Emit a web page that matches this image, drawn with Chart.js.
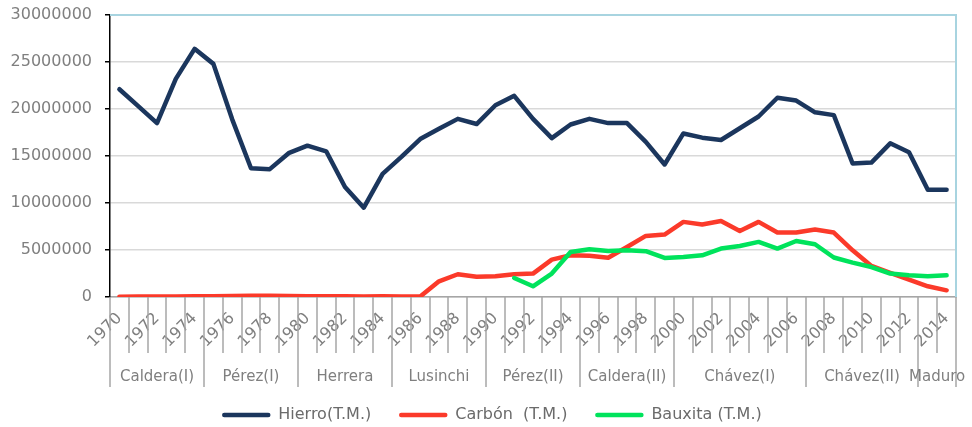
<!DOCTYPE html>
<html>
<head>
<meta charset="utf-8">
<script src="https://cdn.jsdelivr.net/npm/chart.js@4"></script>
<style>
  html, body { margin: 0; padding: 0; background: #fff; }
</style>
</head>
<body>
<canvas id="chart" width="972" height="427"></canvas>
<script>
// Categories (years) and the presidential periods under them
const years = ['1970', '1971', '1972', '1973', '1974', '1975', '1976', '1977', '1978', '1979',
  '1980', '1981', '1982', '1983', '1984', '1985', '1986', '1987', '1988', '1989',
  '1990', '1991', '1992', '1993', '1994', '1995', '1996', '1997', '1998', '1999',
  '2000', '2001', '2002', '2003', '2004', '2005', '2006', '2007', '2008', '2009',
  '2010', '2011', '2012', '2013', '2014'];
const presidents = ['Caldera(I)', 'Pérez(I)', 'Herrera', 'Lusinchi', 'Pérez(II)', 'Caldera(II)', 'Chávez(I)', 'Chávez(II)', 'Maduro'];
const presidentYears = [5, 5, 5, 5, 5, 5, 7, 6, 2];

// Production in T.M.
const hierro = [22100000, 20300000, 18500000, 23200000, 26400000, 24800000, 18900000, 13700000, 13600000, 15300000,
  16100000, 15500000, 11700000, 9500000, 13100000, 14900000, 16800000, 17900000, 18950000, 18400000,
  20400000, 21400000, 18950000, 16900000, 18350000, 18950000, 18500000, 18500000, 16500000, 14100000,
  17400000, 16950000, 16700000, 17950000, 19200000, 21200000, 20900000, 19650000, 19350000, 14200000,
  14300000, 16350000, 15400000, 11400000, 11400000];
const carbon = [30000, 40000, 50000, 60000, 70000, 80000, 100000, 120000, 130000, 110000,
  90000, 80000, 70000, 60000, 70000, 60000, 50000, 1670000, 2420000, 2150000,
  2200000, 2420000, 2490000, 3980000, 4440000, 4380000, 4180000, 5320000, 6500000, 6640000,
  7990000, 7710000, 8090000, 7030000, 7990000, 6860000, 6860000, 7180000, 6860000, 4970000,
  3300000, 2560000, 1850000, 1140000, 710000];
const bauxita = [null, null, null, null, null, null, null, null, null, null,
  null, null, null, null, null, null, null, null, null, null,
  null, 2020000, 1140000, 2490000, 4790000, 5080000, 4900000, 4970000, 4870000, 4150000,
  4260000, 4440000, 5150000, 5430000, 5860000, 5150000, 5960000, 5610000, 4200000, 3660000,
  3190000, 2490000, 2310000, 2200000, 2310000];

const yTicks = [0, 5000000, 10000000, 15000000, 20000000, 25000000, 30000000];

const FONT = '"DejaVu Sans", sans-serif';
const GREY = '#7f7f7f';

// second level of the category axis: year separators, period separators and names
const periodAxis = {
  id: 'periodAxis',
  afterDraw(chart) {
    const ctx = chart.ctx;
    const x = chart.scales.x;
    const area = chart.chartArea;
    const step = x.getPixelForValue(1) - x.getPixelForValue(0);
    const edge = i => x.getPixelForValue(i) - step / 2;

    const bounds = new Set([0]);
    let b = 0;
    presidentYears.forEach(n => { b += n; bounds.add(b); });

    ctx.save();
    ctx.strokeStyle = '#a6a6a6';
    ctx.lineWidth = 1.5;
    for (let i = 0; i <= years.length; i++) {
      const px = Math.round(edge(i));
      const bottom = bounds.has(i) ? area.bottom + 90 : area.bottom + 56;
      ctx.beginPath();
      ctx.moveTo(px, area.bottom);
      ctx.lineTo(px, bottom);
      ctx.stroke();
    }

    ctx.fillStyle = GREY;
    ctx.font = '15px ' + FONT;
    ctx.textAlign = 'center';
    ctx.textBaseline = 'middle';
    let start = 0;
    presidents.forEach((name, k) => {
      const end = start + presidentYears[k];
      ctx.fillText(name, (edge(start) + edge(end)) / 2, area.bottom + 80);
      start = end;
    });

    // light blue frame on top and right of the plot
    ctx.strokeStyle = '#a8d4e0';
    ctx.lineWidth = 2;
    ctx.beginPath();
    ctx.moveTo(area.left, area.top);
    ctx.lineTo(area.right, area.top);
    ctx.lineTo(area.right, area.bottom);
    ctx.stroke();
    ctx.restore();
  }
};

// legend row with line samples, centred under the chart
const lineLegend = {
  id: 'lineLegend',
  afterDraw(chart) {
    const ctx = chart.ctx;
    const sample = 48, gap = 8, spacing = 28, cy = 415;
    ctx.save();
    ctx.font = '16px ' + FONT;
    const items = chart.data.datasets.map(ds => ({ ds, w: sample + gap + ctx.measureText(ds.label).width }));
    const total = items.reduce((s, it) => s + it.w, 0) + spacing * (items.length - 1);
    let cx = (chart.width - total) / 2 + 6;
    items.forEach(it => {
      ctx.strokeStyle = it.ds.borderColor;
      ctx.lineWidth = it.ds.borderWidth;
      ctx.lineCap = 'round';
      ctx.beginPath();
      ctx.moveTo(cx + 2, cy);
      ctx.lineTo(cx + sample - 2, cy);
      ctx.stroke();
      ctx.fillStyle = '#6b6b6b';
      ctx.textAlign = 'left';
      ctx.textBaseline = 'middle';
      ctx.fillText(it.ds.label, cx + sample + gap, cy);
      cx += it.w + spacing;
    });
    ctx.restore();
  }
};

const lineStyle = {
  borderWidth: 4.5,
  pointRadius: 0,
  tension: 0,
  borderCapStyle: 'round',
  borderJoinStyle: 'round',
  spanGaps: false
};

new Chart(document.getElementById('chart'), {
  type: 'line',
  data: {
    labels: years,
    datasets: [
      { label: 'Hierro(T.M.)', data: hierro, borderColor: '#1b365d', backgroundColor: '#1b365d', order: 3, ...lineStyle },
      { label: 'Carbón  (T.M.)', data: carbon, borderColor: '#fb3a2a', backgroundColor: '#fb3a2a', order: 2, ...lineStyle },
      { label: 'Bauxita (T.M.)', data: bauxita, borderColor: '#00e35c', backgroundColor: '#00e35c', order: 1, ...lineStyle }
    ]
  },
  options: {
    responsive: false,
    animation: false,
    devicePixelRatio: 1,
    events: [],
    layout: { padding: { top: 15, right: 16, bottom: 40, left: 0 } },
    plugins: {
      legend: { display: false },
      tooltip: { enabled: false }
    },
    scales: {
      x: {
        type: 'category',
        offset: true,
        grid: { display: false },
        border: { display: true, color: '#a6a6a6', width: 1.5 },
        ticks: {
          autoSkip: false,
          minRotation: 45,
          maxRotation: 45,
          padding: 4,
          color: GREY,
          font: { family: FONT, size: 16 },
          callback: (v, i) => (i % 2 === 0 ? years[i] : '')
        },
        afterFit: s => { s.height = 90; s.paddingTop = 0; s.paddingBottom = 0; }
      },
      y: {
        min: 0,
        max: 30000000,
        afterBuildTicks: s => { s.ticks = yTicks.map(v => ({ value: v })); },
        grid: { color: '#d9d9d9', lineWidth: 1.5, tickColor: '#000', tickLength: 5 },
        border: { color: '#000', width: 1.5 },
        ticks: {
          padding: 13,
          color: GREY,
          font: { family: FONT, size: 16 },
          callback: v => String(v)
        },
        afterFit: s => { s.width = 110; s.paddingTop = 0; s.paddingBottom = 0; }
      }
    }
  },
  plugins: [periodAxis, lineLegend]
});
</script>
</body>
</html>
